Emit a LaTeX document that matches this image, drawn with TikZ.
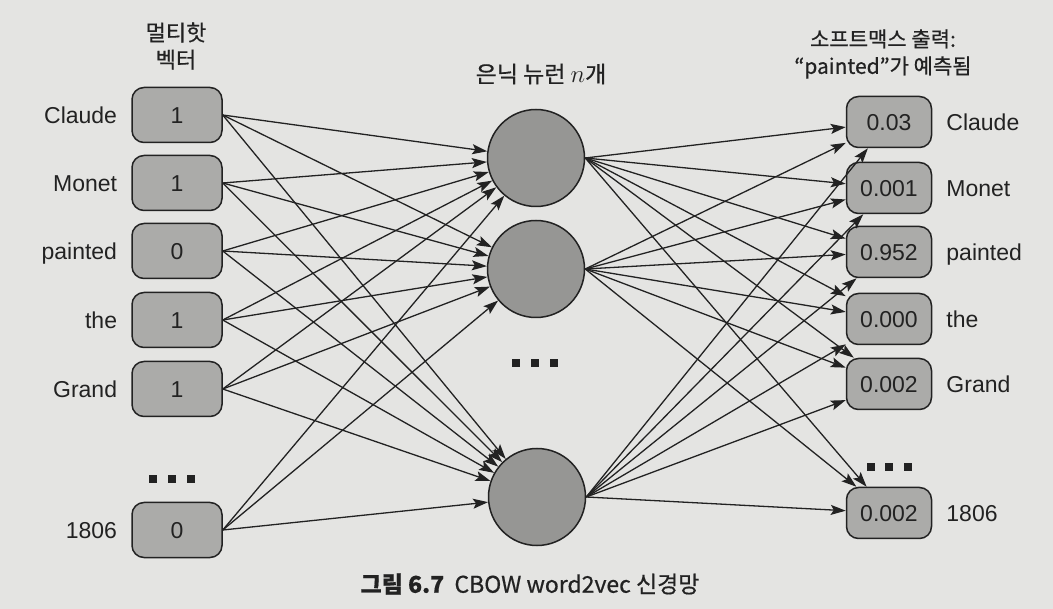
\documentclass[tikz,border=0pt]{standalone}
\usepackage{fontspec}
\setmainfont{Liberation Sans}
\newfontfamily\kofont{Noto Sans CJK KR}
\newfontfamily\kohead[FakeBold=0.6]{Noto Sans CJK KR}
\usetikzlibrary{arrows.meta,positioning}
\definecolor{paper}{HTML}{E4E4E2}
\definecolor{ink}{HTML}{222222}
\definecolor{cellg}{HTML}{ABABA9}
\definecolor{neur}{HTML}{969694}
\tikzset{
  cell/.style={draw=ink, fill=cellg, rounded corners=12pt, line width=1.5pt,
               minimum width=90pt, minimum height=55pt, inner sep=0pt,
               text height=16.5pt, text depth=0pt, text=ink, font=\fontsize{23}{27}\selectfont},
  outcell/.style={cell, minimum width=85pt, minimum height=51pt},
  neuron/.style={circle, draw=ink, fill=neur, line width=1.5pt,
                 minimum size=97pt, inner sep=0pt},
  word/.style={text height=16.5pt, text depth=0pt, inner sep=0pt, text=ink,
               font=\fontsize{23}{27}\selectfont},
  head/.style={align=center, text=ink, font=\kohead\fontsize{21}{27}\selectfont},
  wire/.style={-{Stealth[length=15pt,width=10pt,inset=3pt]}, line width=1.3pt, draw=ink},
  dotsq/.style={fill=ink, minimum size=8pt, inner sep=0pt}
}
\begin{document}
\begin{tikzpicture}[x=1pt,y=-1pt]
  % page
  \fill[paper] (0,0) rectangle (1053,609);

  % multi-hot input column
  \foreach \i/\y/\w/\v in {1/115/Claude/1,2/183/Monet/1,3/251/painted/0,4/320/the/1,5/389/Grand/1,6/530/1806/0} {
    \node[cell] (in\i) at (177,\y) {\v};
    \node[word, left=14pt of in\i] (inw\i) {\w};
  }

  % hidden neurons
  \node[neuron] (hid1) at (536,158) {};
  \node[neuron] (hid2) at (536,269) {};
  \node[neuron] (hid3) at (537,497) {};

  % softmax output column
  \foreach \i/\y/\w/\v in {1/122/Claude/0.03,2/188/Monet/0.001,3/252/painted/0.952,4/319/the/0.000,5/384/Grand/0.002,6/513/1806/0.002} {
    \node[outcell] (out\i) at (889,\y) {\v};
    \node[word, right=14pt of out\i] (outw\i) {\w};
  }

  % wires
  \foreach \i in {1,...,6} {
    \foreach \h in {1,2,3} {
      \draw[wire] (in\i.east) -- (hid\h);
    }
  }
  \foreach \h in {1,2,3} {
    \foreach \o in {1,...,6} {
      \draw[wire] (hid\h.east) -- (out\o);
    }
  }

  % ellipsis squares
  \foreach \k/\x/\y in {a/153/479,b/172/479,c/191/479,d/516/363,e/535/363,f/554/363,g/871/467,h/889/467,j/908/467} {
    \node[dotsq] (dot\k) at (\x,\y) {};
  }

  % headings
  \node[head, font=\kohead\fontsize{22}{27}\selectfont] (hinput) at (176,46) {멀티핫\\벡터};
  \node[head, font=\kohead\fontsize{23}{27}\selectfont] (hhidden) at (541,74) {은닉 뉴런 $n$개};
  \node[head] (houtput) at (883,54) {소프트맥스 출력:\\“painted”가 예측됨};

  % caption
  \node[text=ink, font=\kohead\fontsize{23}{30}\selectfont] (caption) at (530,584)
    {{\bfseries 그림 6.7}\ \ CBOW word2vec 신경망};
\end{tikzpicture}
\end{document}
